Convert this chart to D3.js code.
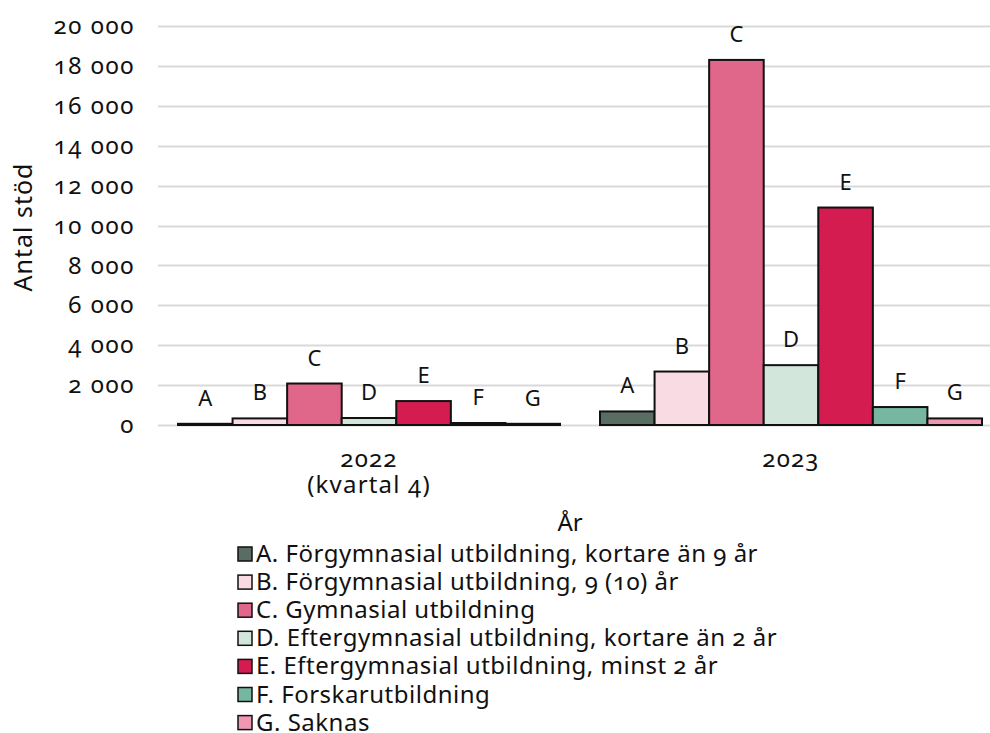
<!DOCTYPE html>
<html>
<head>
<meta charset="utf-8">
<script src="https://d3js.org/d3.v7.min.js"></script>
<style>
  body { margin: 0; background: #fff; }
  text { font-family: "Noto Sans", "Open Sans", sans-serif; font-variant-numeric: oldstyle-nums; fill: #111; }
</style>
</head>
<body>
<svg id="vis"></svg>
<script>
// data
var years = ["2022", "2023"];
var yearLabels = [["2022", "(kvartal 4)"], ["2023"]];
var levels = ["A", "B", "C", "D", "E", "F", "G"];
var levelNames = [
  "A. Förgymnasial utbildning, kortare än 9 år",
  "B. Förgymnasial utbildning, 9 (10) år",
  "C. Gymnasial utbildning",
  "D. Eftergymnasial utbildning, kortare än 2 år",
  "E. Eftergymnasial utbildning, minst 2 år",
  "F. Forskarutbildning",
  "G. Saknas"
];
var values2022 = [60, 330, 2080, 350, 1200, 100, 60];
var values2023 = [680, 2680, 18300, 3000, 10900, 900, 330];
var yTicks = [0, 2000, 4000, 6000, 8000, 10000, 12000, 14000, 16000, 18000, 20000];
var colors = ["#5a6d63", "#f9dbe3", "#e0668a", "#d3e6db", "#d51c50", "#77b6a0", "#f097b2"];

var W = 990, H = 733;
var svg = d3.select("#vis").attr("width", W).attr("height", H);

var rows = years.map(function(y, i) {
  return { year: y, label: yearLabels[i], vals: i == 0 ? values2022 : values2023 };
});

// scales
var x0 = d3.scaleBand().domain(years).range([158, 1002]);
var x1 = d3.scaleBand().domain(levels).range([20, x0.bandwidth() - 20]);
var y = d3.scaleLinear().domain([0, 20000]).range([425, 26]);

var fmt = function(d) { return d3.format(",")(d).replace(/,/g, " "); };

// gridlines
svg.append("g")
  .selectAll("line")
  .data(yTicks)
  .join("line")
  .attr("x1", 158).attr("x2", 1002)
  .attr("y1", function(d) { return Math.round(y(d)) + 0.5; })
  .attr("y2", function(d) { return Math.round(y(d)) + 0.5; })
  .attr("stroke", "#d9d9d9")
  .attr("stroke-width", 2);

// y axis labels
var yAxis = svg.append("g")
  .attr("transform", "translate(135,0)")
  .call(d3.axisLeft(y).tickValues(yTicks).tickFormat(fmt).tickSize(0).tickPadding(0));
yAxis.select(".domain").remove();
yAxis.attr("font-family", null).attr("font-size", null);
yAxis.selectAll("text")
  .style("font-size", "24px")
  .style("letter-spacing", "1.6px")
  .attr("fill", "#111");

// bars
var groups = svg.append("g")
  .selectAll("g")
  .data(rows)
  .join("g")
  .attr("transform", function(d) { return "translate(" + x0(d.year) + ",0)"; });

groups.selectAll("rect")
  .data(function(d) { return d.vals.map(function(v, i) { return { k: levels[i], v: v, c: colors[i] }; }); })
  .join("rect")
  .attr("x", function(d) { return x1(d.k); })
  .attr("width", x1.bandwidth())
  .attr("y", function(d) { return y(d.v); })
  .attr("height", function(d) { return y(0) - y(d.v); })
  .attr("fill", function(d) { return d.c; })
  .attr("stroke", "#111")
  .attr("stroke-width", 2);

groups.selectAll("text.lbl")
  .data(function(d) { return d.vals.map(function(v, i) { return { k: levels[i], v: v }; }); })
  .join("text")
  .attr("class", "lbl")
  .attr("x", function(d) { return x1(d.k) + x1.bandwidth() / 2; })
  .attr("y", function(d) { return y(d.v) - 18; })
  .attr("text-anchor", "middle")
  .style("font-size", "22px")
  .text(function(d) { return d.k; });

// x axis category labels
var xl = svg.append("g")
  .selectAll("text")
  .data(rows)
  .join("text")
  .attr("x", function(d) { return x0(d.year) + x0.bandwidth() / 2; })
  .attr("y", 467)
  .attr("text-anchor", "middle")
  .style("font-size", "24px")
  .style("letter-spacing", "1.2px");
xl.selectAll("tspan")
  .data(function(d) { return d.label; })
  .join("tspan")
  .attr("x", function() { return this.parentNode.getAttribute("x"); })
  .attr("dy", function(d, i) { return i == 0 ? 0 : 26; })
  .text(function(d) { return d; });

// axis titles
svg.append("text")
  .attr("transform", "translate(32,227) rotate(-90)")
  .attr("text-anchor", "middle")
  .style("font-size", "25px")
  .style("letter-spacing", "1px")
  .text("Antal stöd");

svg.append("text")
  .attr("x", 570).attr("y", 531)
  .attr("text-anchor", "middle")
  .style("font-size", "24px")
  .text("År");

// legend
var leg = svg.append("g")
  .selectAll("g")
  .data(levelNames)
  .join("g")
  .attr("transform", function(d, i) { return "translate(237," + (554 + i * 28.1) + ")"; });
leg.append("rect")
  .attr("x", 1).attr("y", -7)
  .attr("width", 14).attr("height", 14)
  .attr("fill", function(d, i) { return colors[i]; })
  .attr("stroke", "#111")
  .attr("stroke-width", 1.5);
leg.append("text")
  .attr("x", 19).attr("y", 8)
  .style("font-size", "24px")
  .style("letter-spacing", "0.5px")
  .text(function(d) { return d; });
</script>
</body>
</html>
